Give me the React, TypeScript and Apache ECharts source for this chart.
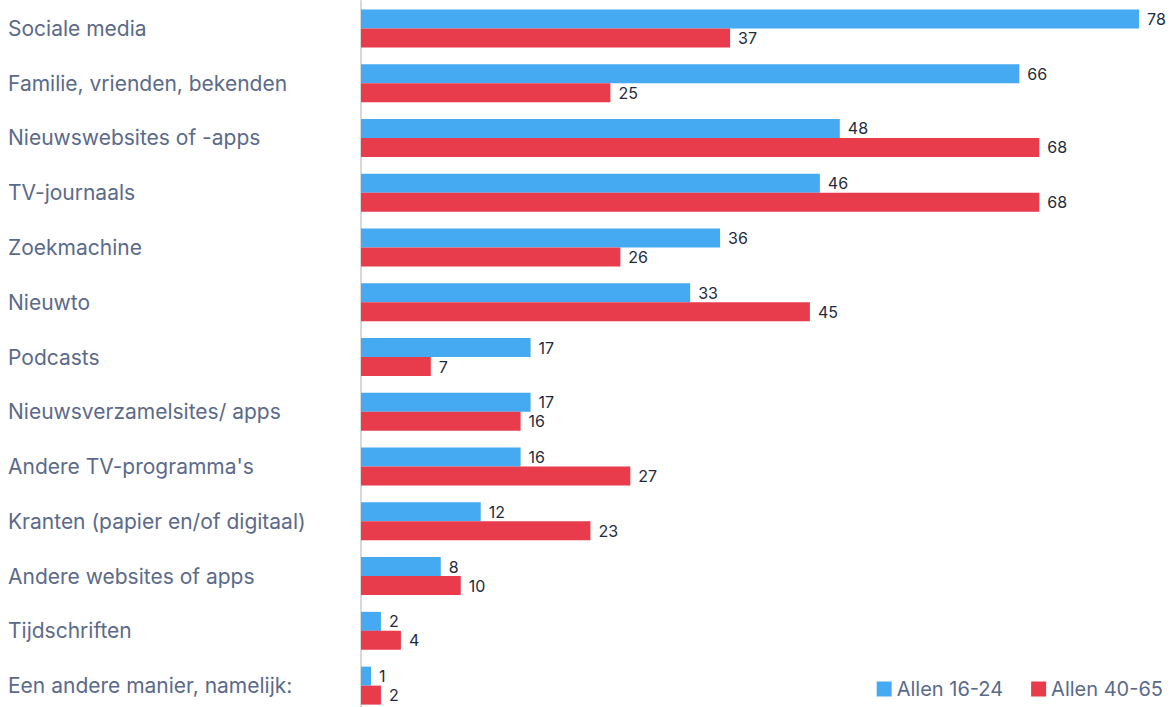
import React, { useEffect, useRef } from "react";
import * as echarts from "echarts";

const categories = [
  "Sociale media",
  "Familie, vrienden, bekenden",
  "Nieuwswebsites of -apps",
  "TV-journaals",
  "Zoekmachine",
  "Nieuwto",
  "Podcasts",
  "Nieuwsverzamelsites/ apps",
  "Andere TV-programma's",
  "Kranten (papier en/of digitaal)",
  "Andere websites of apps",
  "Tijdschriften",
  "Een andere manier, namelijk:",
];
const young = [78, 66, 48, 46, 36, 33, 17, 17, 16, 12, 8, 2, 1];
const older = [37, 25, 68, 68, 26, 45, 7, 16, 27, 23, 10, 4, 2];
const seriesNames = ["Allen 16-24", "Allen 40-65"];

export default function App() {
  const ref = useRef<HTMLDivElement>(null);
  useEffect(() => {
    const chart = echarts.init(ref.current!, null, { renderer: "svg" });
    const labelStyle = {
      show: true,
      position: "right" as const,
      distance: 8,
      color: "#1f2b3d",
      fontSize: 16,
      fontFamily: "Inter",
    };
    chart.setOption({
      animation: false,
      textStyle: { fontFamily: "Inter" },
      grid: { left: 361, right: 14, top: 1, bottom: 0, containLabel: false },
      legend: {
        right: 5,
        bottom: 9,
        itemWidth: 15,
        itemHeight: 15,
        itemGap: 28,
        itemTextGap: 9,
        icon: "rect",
        textStyle: { color: "#5b6a8a", fontSize: 20, fontFamily: "Inter" },
        data: seriesNames,
      },
      xAxis: {
        type: "value",
        min: 0,
        max: 80,
        show: false,
      },
      yAxis: {
        type: "category",
        data: categories,
        inverse: true,
        axisLine: { show: true, lineStyle: { color: "#d9d9d9", width: 2 } },
        axisTick: { show: false },
        axisLabel: {
          align: "left",
          margin: 353,
          color: "#5b6a8a",
          fontSize: 21,
          fontFamily: "Inter",
        },
      },
      series: [
        {
          name: seriesNames[0],
          type: "bar",
          data: young,
          barWidth: 19,
          barGap: "0%",
          itemStyle: { color: "#45aaf2" },
          label: labelStyle,
        },
        {
          name: seriesNames[1],
          type: "bar",
          data: older,
          barWidth: 19,
          barGap: "0%",
          itemStyle: { color: "#e83b4b" },
          label: labelStyle,
        },
      ],
    });
    return () => chart.dispose();
  }, []);
  return (
    <div style={{ position: "absolute", left: 0, top: 0, width: 1173, height: 707, overflow: "hidden" }}>
      <div ref={ref} style={{ width: 1173, height: 713 }} />
    </div>
  );
}
